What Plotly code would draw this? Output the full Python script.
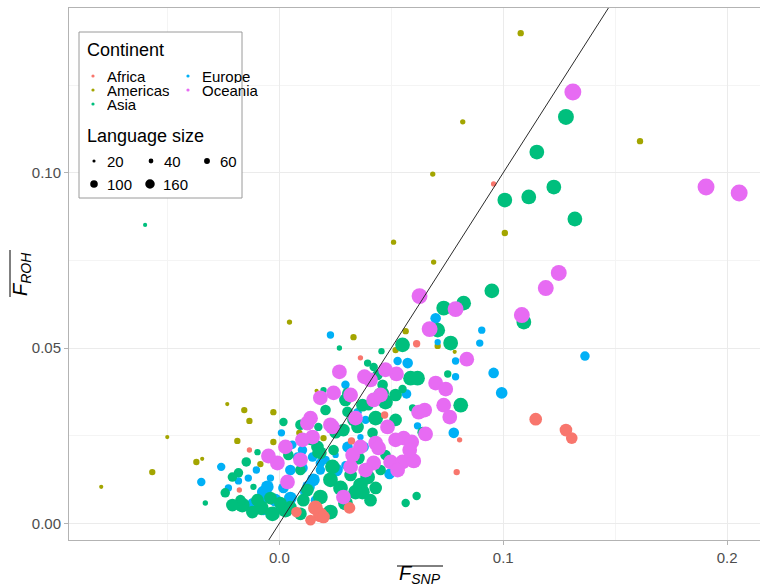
import numpy as np
import plotly.graph_objects as go

# ---- data: mean F_SNP, mean F_ROH and number of individuals per language ----
continents = ["Africa", "Americas", "Asia", "Europe", "Oceania"]
continent_colors = ["#F8766D", "#A3A500", "#00BF7D", "#00B0F6", "#E76BF3"]

africa_fsnp = [0.0957, 0.1145, 0.1280, 0.1306, 0.0792, 0.0805, 0.0613, 0.0470, 0.0362,
               -0.0134, 0.0000, -0.0179, 0.0076, 0.0161, 0.0183, 0.0313, 0.0322, 0.0197,
               0.0139]
africa_froh = [0.0968, 0.0297, 0.0266, 0.0243, 0.0146, 0.0238, 0.0512, 0.0309, 0.0472,
               0.0209, 0.0181, 0.0095, 0.0032, 0.0044, 0.0024, 0.0044, 0.0235, 0.0018,
               0.0009]
africa_size = [50, 290, 290, 245, 70, 50, 95, 95, 50, 50, 70, 50, 200, 400, 400, 245, 95, 290,
               200]

americas_fsnp = [0.1078, 0.0819, 0.1611, 0.1007, 0.0685, 0.0689, 0.0510, 0.0045, 0.0331,
                 -0.0796, -0.0568, -0.0501, -0.0371, -0.0345, -0.0233, -0.0157, -0.0134,
                 -0.0027, -0.0188, -0.0027, -0.0085, 0.0166, 0.0089, 0.0197, 0.0564,
                 0.0519, 0.0707, 0.0783]
americas_froh = [0.1398, 0.1145, 0.1090, 0.0828, 0.0996, 0.0745, 0.0802, 0.0574, 0.0531,
                 0.0104, 0.0146, 0.0246, 0.0175, 0.0184, 0.0340, 0.0323, 0.0292,
                 0.0317, 0.0235, 0.0232, 0.0169, 0.0378, 0.0258, 0.0243, 0.0548,
                 0.0494, 0.0506, 0.0489]
americas_size = [70, 50, 70, 70, 50, 50, 50, 50, 70, 32, 70, 32, 70, 32, 32, 70, 70,
                 70, 70, 70, 70, 32, 70, 70, 70, 70, 70, 32]

asia_fsnp = [-0.0600, 0.1280, 0.1150, 0.1226, 0.1114, 0.1007, 0.1320, 0.0949, 0.0823,
             0.1092, 0.0734, 0.0707, 0.0765, 0.0550, 0.0456, 0.0394, 0.0586, 0.0617,
             0.0752, 0.0550, 0.0810, 0.0452, 0.0474, 0.0595, 0.0640, 0.0430, 0.0362,
             0.0371, 0.0564, 0.0613, 0.0340, 0.0228, 0.0273, 0.0268, 0.0018, -0.0098,
             -0.0148, -0.0210, -0.0183, -0.0331, -0.0116, -0.0166, 0.0197, 0.0309,
             0.0040, 0.0183, -0.0081, 0.0027, -0.0040, 0.0251, 0.0349, 0.0416, 0.0438,
             0.0461, 0.0304, 0.0398, 0.0304, 0.0331, 0.0286, 0.0174, -0.0098, 0.0004,
             0.0170, 0.0237, 0.0394, 0.0183, 0.0107, 0.0421, -0.0174,
             -0.0210, -0.0121, -0.0031, 0.0094, 0.0228, 0.0295, 0.0407, 0.0430,
             0.0049, 0.0125, 0.0170, 0.0242, -0.0242, 0.0318, 0.0452, 0.0094,
             0.0295, 0.0371, 0.0461, 0.0519, 0.0206, 0.0139,
             0.0519, 0.0353, 0.0474, 0.0094]
asia_froh = [0.0851, 0.1159, 0.1059, 0.0959, 0.0931, 0.0922, 0.0868, 0.0663, 0.0628,
             0.0574, 0.0614, 0.0551, 0.0514, 0.0509, 0.0491, 0.0457, 0.0414, 0.0414,
             0.0426, 0.0383, 0.0337, 0.0366, 0.0346, 0.0329, 0.0260, 0.0300, 0.0109,
             0.0089, 0.0058, 0.0078, 0.0089, 0.0124, 0.0101, 0.0500, 0.0289, 0.0203,
             0.0175, 0.0132, 0.0144, 0.0058, 0.0104, 0.0052, 0.0380, 0.0366,
             0.0195, 0.0201, 0.0044, 0.0038, 0.0072, 0.0260, 0.0275, 0.0258, 0.0423,
             0.0372, 0.0372, 0.0337, 0.0318, 0.0295, 0.0266, 0.0275, 0.0066, 0.0058,
             0.0218, 0.0161, 0.0132, 0.0075, 0.0066, 0.0446, 0.0066,
             0.0052, 0.0032, 0.0027, 0.0027, 0.0032, 0.0058, 0.0066, 0.0101,
             0.0046, 0.0095, 0.0201, 0.0209, 0.0087, 0.0138, 0.0152, 0.0152,
             0.0352, 0.0337, 0.0395, 0.0295, 0.0323, 0.0238,
             0.0366, 0.0186, 0.0195, 0.0281]
asia_size = [32, 465, 400, 400, 400, 400, 400, 400, 400,
             400, 400, 400, 400, 400, 70, 95, 400, 400,
             95, 125, 400, 400, 400, 95, 200, 400, 400,
             400, 125, 125, 400, 400, 400, 50, 125, 70,
             160, 160, 160, 50, 70, 400, 70, 290,
             200, 290, 400, 400, 290, 290, 290, 200, 200,
             290, 200, 200, 200, 290, 290, 125, 290, 290,
             290, 400, 400, 400, 290, 125, 200,
             290, 290, 400, 290, 400, 400, 290, 290,
             290, 290, 200, 200, 160, 290, 200, 200,
             290, 290, 200, 290, 200, 200,
             290, 290, 200, 200]

europe_fsnp = [0.1365, 0.0957, 0.0993, 0.0904, 0.0895, 0.0787, 0.0787, 0.0779, 0.0617,
               0.0698, 0.0707, 0.0528, 0.0573, 0.0568, 0.0492, 0.0228, 0.0009, -0.0260,
               -0.0349, -0.0183, -0.0139, -0.0040, -0.0072, 0.0152, 0.0255, 0.0304,
               0.0251, 0.0081, 0.0049, 0.0116, 0.0004, -0.0121, 0.0183, 0.0376, 0.0103,
               0.0148, 0.0103, -0.0054, -0.0130, -0.0072, 0.0130, 0.0183, 0.0349, 0.0362,
               -0.0085, -0.0018, 0.0018, 0.0058, 0.0206, 0.0295, 0.0430, 0.0385,
               -0.0103, -0.0228, 0.0161, 0.0049, 0.0295]
europe_froh = [0.0477, 0.0429, 0.0372, 0.0551, 0.0514, 0.0463, 0.0418, 0.0258, 0.0278,
               0.0585, 0.0517, 0.0463, 0.0457, 0.0369, 0.0141, 0.0537, 0.0258, 0.0161,
               0.0118, 0.0121, 0.0129, 0.0129, 0.0089, 0.0124, 0.0152, 0.0218,
               0.0195, 0.0189, 0.0072, 0.0089, 0.0052, 0.0058, 0.0152, 0.0218, 0.0209,
               0.0189, 0.0158, 0.0104, 0.0044, 0.0038, 0.0104, 0.0172, 0.0317, 0.0246,
               0.0066, 0.0066, 0.0101, 0.0224, 0.0181, 0.0166, 0.0238, 0.0295,
               0.0152, 0.0101, 0.0066, 0.0152, 0.0395]
europe_size = [160, 200, 245, 95, 95, 95, 95, 200, 95,
               200, 70, 125, 200, 160, 200, 95, 95, 125,
               125, 95, 95, 95, 290, 290, 290, 200,
               70, 160, 290, 200, 200, 160, 160, 200, 160,
               160, 200, 290, 125, 200, 290, 160, 125, 70,
               290, 290, 200, 125, 125, 125, 95, 125,
               95, 95, 160, 200, 125]

oceania_fsnp = [0.1311, 0.1906, 0.2054, 0.1248, 0.1190, 0.1083, 0.0626, 0.0787, 0.0671,
                0.0837, 0.0523, 0.0698, 0.0743, 0.0734, 0.0761, 0.0622, 0.0649, 0.0483,
                0.0653, 0.0555, 0.0591, 0.0430, 0.0421, 0.0497, 0.0550, 0.0600, 0.0528,
                0.0362, 0.0268, 0.0407, 0.0242, 0.0380, 0.0139, 0.0237, 0.0340, 0.0027,
                -0.0049, -0.0009, 0.0036, 0.0286, 0.0318, 0.0148, 0.0421, 0.0125, 0.0228,
                0.0103, 0.0443, 0.0183, 0.0318, 0.0474, 0.0094, 0.0385, 0.0582,
                0.0452, 0.0519, 0.0327]
oceania_froh = [0.1230, 0.0959, 0.0942, 0.0714, 0.0671, 0.0594, 0.0648, 0.0611, 0.0554,
                0.0468, 0.0426, 0.0400, 0.0383, 0.0337, 0.0303, 0.0317, 0.0323, 0.0275,
                0.0255, 0.0243, 0.0232, 0.0229, 0.0172, 0.0175, 0.0175, 0.0178, 0.0152,
                0.0218, 0.0432, 0.0409, 0.0372, 0.0418, 0.0300, 0.0275, 0.0300, 0.0218,
                0.0192, 0.0172, 0.0118, 0.0075, 0.0161, 0.0246, 0.0352, 0.0286, 0.0281,
                0.0238, 0.0215, 0.0358, 0.0366, 0.0438, 0.0181, 0.0152, 0.0209,
                0.0366, 0.0238, 0.0195]
oceania_size = [530, 530, 530, 465, 465, 465, 465, 465, 465,
                400, 400, 400, 400, 400, 400, 400, 400, 400,
                400, 400, 400, 400, 400, 400, 400, 400, 400,
                400, 400, 400, 400, 400, 400, 400, 400, 400,
                400, 400, 400, 400, 400, 400, 400, 400, 400,
                400, 400, 400, 400, 400, 400, 400, 400,
                400, 400, 400]

size_breaks = [20, 40, 60, 100, 160]

# ---- size scale (area palette: diameter grows with sqrt of rescaled value) ----
SIZE_LIMITS = (10, 534)
DIAM_RANGE = (0.9, 17.0)


def diameter(v):
    v = np.asarray(v, dtype=float)
    t = np.clip((v - SIZE_LIMITS[0]) / (SIZE_LIMITS[1] - SIZE_LIMITS[0]), 0, 1)
    return DIAM_RANGE[0] + (DIAM_RANGE[1] - DIAM_RANGE[0]) * np.sqrt(t)


series = {
    "Africa": (africa_fsnp, africa_froh, africa_size),
    "Americas": (americas_fsnp, americas_froh, americas_size),
    "Asia": (asia_fsnp, asia_froh, asia_size),
    "Europe": (europe_fsnp, europe_froh, europe_size),
    "Oceania": (oceania_fsnp, oceania_froh, oceania_size),
}
color_of = dict(zip(continents, continent_colors))

fig = go.Figure()
for name in ["Americas", "Europe", "Asia", "Africa", "Oceania"]:
    xs, ys, ss = series[name]
    fig.add_trace(go.Scatter(
        x=xs, y=ys, mode="markers", name=name,
        marker=dict(size=diameter(ss), color=color_of[name], line=dict(width=0), opacity=1),
        showlegend=False,
    ))

# ---- axes ----
X_RANGE = [-0.094, 0.2147]
Y_RANGE = [-0.00476, 0.14698]

# identity line y = x across the panel
lo = min(X_RANGE[0], Y_RANGE[0]) - 0.05
hi = max(X_RANGE[1], Y_RANGE[1]) + 0.05
fig.add_trace(go.Scatter(x=[lo, hi], y=[lo, hi], mode="lines",
                         line=dict(color="#2b2b2b", width=1), showlegend=False,
                         hoverinfo="skip"))

FONT = "Liberation Sans, Arial, Helvetica, sans-serif"
W, H = 760, 586
ML, MR, MT, MB = 69, 0, 8, 46
PW, PH = W - ML - MR, H - MT - MB


def px_x(px):
    return (px - ML) / PW


def px_y(py):
    return (H - MB - py) / PH


axis_common = dict(
    showgrid=True, gridcolor="#EBEBEB", gridwidth=1,
    zeroline=False, showline=True, mirror=True, linecolor="#B3B3B3", linewidth=1,
    ticks="outside", ticklen=4, tickcolor="#B3B3B3", tickwidth=1,
    tickfont=dict(family=FONT, size=15, color="#4D4D4D"),
)
fig.update_xaxes(range=X_RANGE, tickmode="array", tickvals=[0, 0.1, 0.2],
                 ticktext=["0.0", "0.1", "0.2"],
                 minor=dict(tickvals=[-0.05, 0.05, 0.15], showgrid=True,
                            gridcolor="#F4F4F4", gridwidth=1, ticks=""),
                 **axis_common)
fig.update_yaxes(range=Y_RANGE, tickmode="array", tickvals=[0, 0.05, 0.10],
                 ticktext=["0.00", "0.05", "0.10"],
                 minor=dict(tickvals=[0.025, 0.075, 0.125], showgrid=True,
                            gridcolor="#F4F4F4", gridwidth=1, ticks=""),
                 **axis_common)

annotations = []
shapes = []

# axis titles with overbars
annotations.append(dict(xref="paper", yref="paper", x=px_x(420), y=px_y(574),
                        text="<i>F</i><sub><i>SNP</i></sub>", showarrow=False,
                        xanchor="center", yanchor="middle",
                        font=dict(family=FONT, size=20, color="black")))
shapes.append(dict(type="line", xref="paper", yref="paper",
                   x0=px_x(397), x1=px_x(443), y0=px_y(566), y1=px_y(566),
                   line=dict(color="black", width=1)))
annotations.append(dict(xref="paper", yref="paper", x=px_x(21), y=px_y(274),
                        text="<i>F</i><sub><i>ROH</i></sub>", showarrow=False,
                        textangle=-90, xanchor="center", yanchor="middle",
                        font=dict(family=FONT, size=20, color="black")))
shapes.append(dict(type="line", xref="paper", yref="paper",
                   x0=px_x(10), x1=px_x(10), y0=px_y(250), y1=px_y(297),
                   line=dict(color="black", width=1)))

# ---- legend box ----
shapes.append(dict(type="rect", xref="paper", yref="paper",
                   x0=px_x(79), x1=px_x(242), y0=px_y(198), y1=px_y(32),
                   fillcolor="white", line=dict(color="#9A9A9A", width=1), layer="above"))


def key_dot(cx, cy, d, color):
    r = d / 2.0
    shapes.append(dict(type="circle", xref="paper", yref="paper",
                       xsizemode="pixel", ysizemode="pixel",
                       xanchor=px_x(cx), yanchor=px_y(cy),
                       x0=-r, x1=r, y0=-r, y1=r,
                       fillcolor=color, line=dict(width=0), layer="above"))


def label(x, y, text, size, box_h=None):
    ann = dict(xref="paper", yref="paper", x=px_x(x), y=px_y(y),
               text=text, showarrow=False, xanchor="left", yanchor="middle",
               borderpad=0, font=dict(family=FONT, size=size, color="black"))
    if box_h is not None:
        ann["height"] = box_h
    annotations.append(ann)


label(86, 50, "Continent", 18)
cont_pos = {
    "Africa": (93, 76), "Americas": (93, 90), "Asia": (93, 104),
    "Europe": (188, 76), "Oceania": (188, 90),
}
for name in continents:
    cx, cy = cont_pos[name]
    key_dot(cx, cy, 3.2, color_of[name])
    label(cx + 13, cy, name, 15, box_h=13)

label(86, 136, "Language size", 18)
size_pos = [(94, 161), (151, 161), (207, 161), (94, 184), (150, 184)]
for val, (cx, cy) in zip(size_breaks, size_pos):
    key_dot(cx, cy, float(diameter(val)), "black")
    label(cx + 12, cy, str(val), 15)

fig.update_layout(
    width=W, height=H,
    margin=dict(l=ML, r=MR, t=MT, b=MB),
    plot_bgcolor="white", paper_bgcolor="white",
    showlegend=False,
    font=dict(family=FONT),
    annotations=annotations,
    shapes=shapes,
)

fig.write_html("out.html")
